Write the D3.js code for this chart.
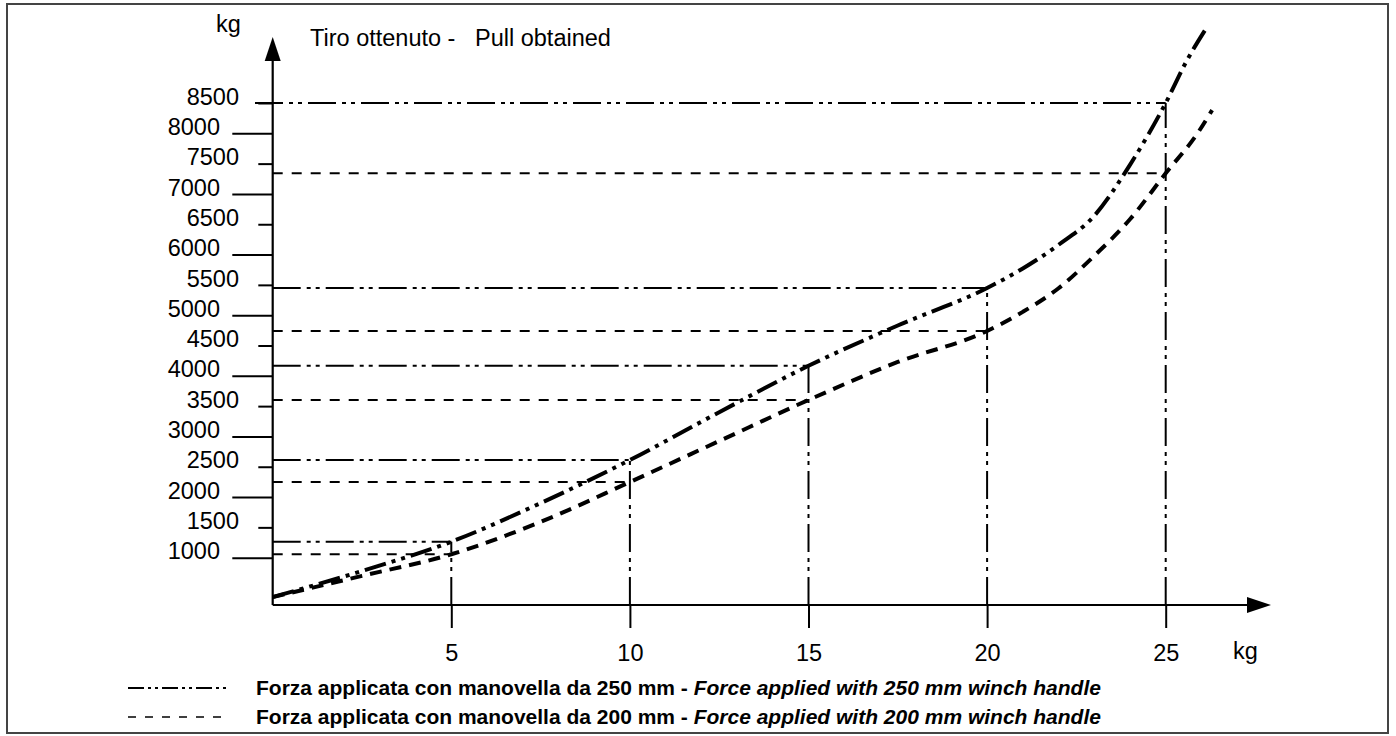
<!DOCTYPE html>
<html>
<head>
<meta charset="utf-8">
<script src="https://cdn.jsdelivr.net/npm/d3@7"></script>
<style>
  body { margin: 0; background: #fff; }
  svg { display: block; font-family: "Liberation Sans", Arial, sans-serif; }
</style>
</head>
<body>
<svg id="chart" width="1396" height="736"></svg>
<script>
// applied force on the handle (kg) and pull obtained (kg)
var force250 = [0, 2.5, 5, 7.5, 10, 12.5, 15, 17.5, 20, 21, 22, 23, 24, 25, 25.6, 26.1];
var pull250  = [350, 780, 1263, 1900, 2611, 3400, 4165, 4830, 5448, 5770, 6160, 6640, 7480, 8500, 9209, 9700];
var force200 = [0, 2.5, 5, 7.5, 10, 12.5, 15, 17.5, 20, 21, 22, 23, 24, 25, 25.9, 26.3];
var pull200  = [350, 700, 1056, 1590, 2248, 2924, 3601, 4228, 4739, 5055, 5444, 5979, 6582, 7340, 8008, 8383];

// marked readings at the x ticks
var markForce = [5, 10, 15, 20, 25];
var mark250 = [1263, 2611, 4165, 5448, 8500];
var mark200 = [1056, 2248, 3601, 4739, 7340];

var yTicks = d3.range(1000, 8501, 500);
var xTicks = [5, 10, 15, 20, 25];

var legendIt = ["Forza applicata con manovella da 250 mm - ", "Forza applicata con manovella da 200 mm - "];
var legendEn = ["Force applied with 250 mm winch handle", "Force applied with 200 mm winch handle"];

var svg = d3.select("#chart");
var x = d3.scaleLinear().domain([0, 25]).range([272.7, 1165.7]);
var y = d3.scaleLinear().domain([0, 8500]).range([618.3, 103]);
var axisY = 605, axisX = x(0);
var fs = 23.5;

var dashDot = "28,6,4,5,4,6";
var dashRef = "10,9";

// frame
svg.append("rect").attr("x", 7).attr("y", 4).attr("width", 1381).attr("height", 729)
  .attr("fill", "none").attr("stroke", "#444").attr("stroke-width", 2);

// y axis ticks, two lengths
function leftAxis(vals, size, pad) {
  var g = svg.append("g").attr("transform", "translate(" + axisX + ",0)")
    .call(d3.axisLeft(y).tickValues(vals).tickSize(size).tickPadding(pad).tickFormat(d3.format("d")));
  g.select(".domain").remove();
  g.selectAll("line").attr("stroke", "#000").attr("stroke-width", 2);
  g.selectAll("text").attr("dy", "0.05em").attr("font-size", fs).attr("fill", "#000")
    .attr("font-family", "Liberation Sans, Arial, sans-serif");
}
leftAxis(yTicks.filter(function(d) { return d % 1000 === 500; }), 14.4, 19.3);
leftAxis(yTicks.filter(function(d) { return d % 1000 === 0; }), 40.4, 12.3);

// x axis ticks
var gx = svg.append("g").attr("transform", "translate(0," + axisY + ")")
  .call(d3.axisBottom(x).tickValues(xTicks).tickSize(23).tickPadding(16));
gx.select(".domain").remove();
gx.selectAll("line").attr("stroke", "#000").attr("stroke-width", 2);
gx.selectAll("text").attr("font-size", fs).attr("fill", "#000")
  .attr("font-family", "Liberation Sans, Arial, sans-serif");

// reference lines
markForce.forEach(function(f, i) {
  svg.append("line").attr("x1", i === 4 ? 255 : axisX).attr("x2", x(f))
    .attr("y1", y(mark250[i])).attr("y2", y(mark250[i]))
    .attr("stroke", "#000").attr("stroke-width", 2).attr("stroke-dasharray", dashDot);
  svg.append("line").attr("x1", axisX).attr("x2", x(f))
    .attr("y1", y(mark200[i])).attr("y2", y(mark200[i]))
    .attr("stroke", "#000").attr("stroke-width", 2).attr("stroke-dasharray", dashRef);
  svg.append("line").attr("x1", x(f)).attr("x2", x(f))
    .attr("y1", axisY).attr("y2", y(mark250[i]))
    .attr("stroke", "#000").attr("stroke-width", 2).attr("stroke-dasharray", dashDot);
});

// axes with arrows
svg.append("line").attr("x1", axisX).attr("x2", axisX).attr("y1", axisY).attr("y2", 58)
  .attr("stroke", "#000").attr("stroke-width", 2.2);
svg.append("path").attr("d", "M" + axisX + ",37 L" + (axisX - 8) + ",61 L" + (axisX + 8) + ",61 Z").attr("fill", "#000");
svg.append("line").attr("x1", axisX).attr("x2", 1250).attr("y1", axisY).attr("y2", axisY)
  .attr("stroke", "#000").attr("stroke-width", 2.2);
svg.append("path").attr("d", "M1271," + axisY + " L1247," + (axisY - 8) + " L1247," + (axisY + 8) + " Z").attr("fill", "#000");

// curves
var line = d3.line().curve(d3.curveMonotoneX)
  .x(function(d) { return x(d[0]); }).y(function(d) { return y(d[1]); });
svg.append("path").datum(d3.zip(force200, pull200)).attr("d", line)
  .attr("fill", "none").attr("stroke", "#000").attr("stroke-width", 4).attr("stroke-dasharray", "12,8");
svg.append("path").datum(d3.zip(force250, pull250)).attr("d", line)
  .attr("fill", "none").attr("stroke", "#000").attr("stroke-width", 4).attr("stroke-dasharray", "22,6,4,6,4,6");

// labels
svg.append("text").attr("x", 216).attr("y", 32).attr("font-size", fs).text("kg");
svg.append("text").attr("x", 310).attr("y", 46).attr("font-size", fs).attr("xml:space", "preserve")
  .text("Tiro ottenuto -   Pull obtained");
svg.append("text").attr("x", 1233).attr("y", 659).attr("font-size", fs).text("kg");

// legend
var legY = [688, 717];
svg.append("line").attr("x1", 128).attr("x2", 230).attr("y1", legY[0]).attr("y2", legY[0])
  .attr("stroke", "#000").attr("stroke-width", 2).attr("stroke-dasharray", "16,4,3,4,3,4");
svg.append("line").attr("x1", 128).attr("x2", 230).attr("y1", legY[1]).attr("y2", legY[1])
  .attr("stroke", "#000").attr("stroke-width", 1.5).attr("stroke-dasharray", "8,9");
legY.forEach(function(ly, i) {
  var t = svg.append("text").attr("x", 256).attr("y", ly + 7).attr("font-size", 21).attr("font-weight", "bold");
  t.append("tspan").attr("xml:space", "preserve").text(legendIt[i]);
  t.append("tspan").attr("font-style", "italic").text(legendEn[i]);
});
</script>
</body>
</html>
